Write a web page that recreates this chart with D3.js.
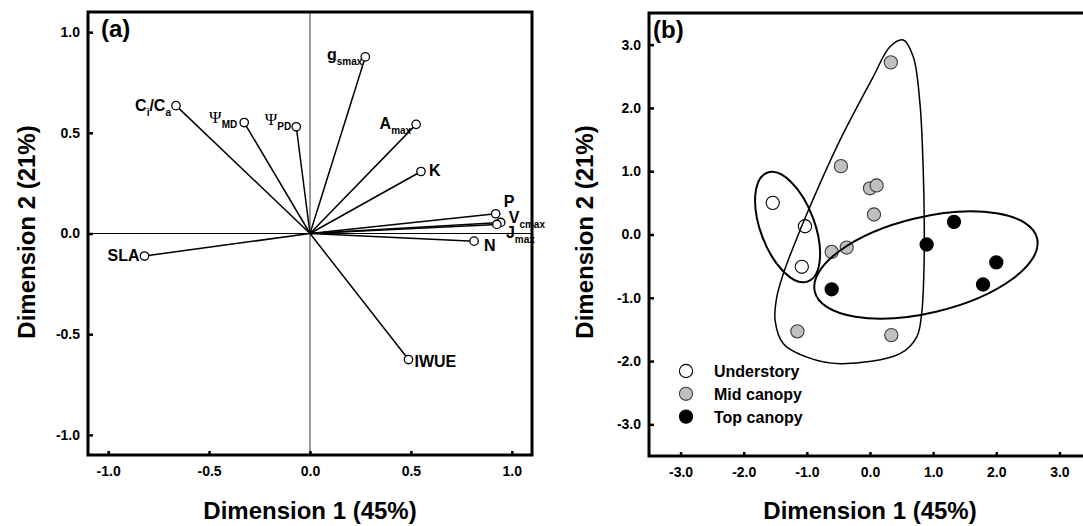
<!DOCTYPE html>
<html>
<head>
<meta charset="utf-8">
<script src="https://cdn.jsdelivr.net/npm/d3@7"></script>
<style>
  html, body { margin: 0; padding: 0; background: #fff; }
  svg { display: block; font-family: "Liberation Sans", Arial, sans-serif; }
</style>
</head>
<body>
<svg id="chart" width="1083" height="526"></svg>
<script>
// ---- Panel (a): trait loadings on the first two dimensions ----
const traits      = ["gsmax", "Ci/Ca", "ΨMD", "ΨPD", "Amax", "K", "P", "Vcmax", "Jmax", "N", "SLA", "IWUE"];
const dim1Loading = [0.274, -0.664, -0.326, -0.068, 0.526, 0.550, 0.920, 0.945, 0.926, 0.813, -0.820, 0.488];
const dim2Loading = [0.877,  0.635,  0.551,  0.530, 0.542, 0.308, 0.098, 0.055, 0.045, -0.038, -0.112, -0.626];
// label pieces: [text, kind] where kind is "" (main), "sub" (subscript) or "psi"
const traitLabels = [
  [["g", ""], ["smax", "sub"]],
  [["C", ""], ["i", "sub"], ["/C", ""], ["a", "sub"]],
  [["Ψ", "psi"], ["MD", "sub"]],
  [["Ψ", "psi"], ["PD", "sub"]],
  [["A", ""], ["max", "sub"]],
  [["K", ""]],
  [["P", ""]],
  [["V", ""], ["cmax", "sub"]],
  [["J", ""], ["max", "sub"]],
  [["N", ""]],
  [["SLA", ""]],
  [["IWUE", ""]]
];
// label placement relative to each loading tip (anchor, dx, dy in px)
const labelPlacement = [
  ["end", -3, 3], ["end", -5, 5], ["end", -7, 0], ["end", -5, -2], ["end", -5, 5], ["start", 8, 5],
  ["start", 8, -7], ["start", 8, 1], ["start", 9, 14], ["start", 10, 10], ["end", -5, 5], ["start", 6, 7]
];
const ticksA = [-1.0, -0.5, 0.0, 0.5, 1.0];

// ---- Panel (b): sample scores by canopy position ----
const groups = ["Understory", "Mid canopy", "Top canopy"];
const groupFill = ["#ffffff", "#c0c0c0", "#000000"];
const understoryX = [-1.54, -1.03, -1.08];
const understoryY = [ 0.50,  0.13, -0.51];
const midX = [0.33, -0.46, 0.00, 0.105, 0.063, -0.607, -0.369, -1.15, 0.337];
const midY = [2.72,  1.08, 0.73, 0.775, 0.316, -0.275, -0.206, -1.53, -1.59];
const topX = [1.33,  0.897, -0.607,  2.00,  1.79];
const topY = [0.20, -0.158, -0.866, -0.44, -0.79];
// group envelopes (data units): ellipses [cx, cy, semi-axis a, semi-axis b, tilt deg]
const understoryEllipse = [-1.305, 0.117, 0.919, 0.427, 69.4];
const topEllipse        = [0.886, -0.482, 1.81, 0.755, -13.5];
// mid canopy envelope outline
const midOutlineX = [0.527, 0.685, 0.791, 0.843, 0.859, 0.854, 0.818, 0.739, 0.475, -0.475, -1.0, -1.372, -1.503, -1.476, -1.372, -1.214, -0.976, -0.475, 0.052, 0.316];
const midOutlineY = [3.074, 2.81, 2.073, 1.017, 0.226, -0.565, -1.25, -1.62, -1.883, -2.041, -1.937, -1.725, -1.356, -0.987, -0.617, -0.196, 0.384, 1.492, 2.494, 2.968];
const ticksB = [-3, -2, -1, 0, 1, 2, 3];

const svg = d3.select("#chart");
const fmt = d => d.toFixed(1);

const xA = d3.scaleLinear().domain([-1.1, 1.1]).range([88, 532]);
const yA = d3.scaleLinear().domain([-1.1, 1.1]).range([455, 12]);
const xB = d3.scaleLinear().domain([-3.5, 3.5]).range([649, 1091]);
const yB = d3.scaleLinear().domain([-3.5, 3.5]).range([456, 13]);

function drawAxes(g, x, y, ticks) {
  const left = g.append("g").attr("transform", `translate(${x.range()[0]},0)`)
    .call(d3.axisLeft(y).tickValues(ticks).tickFormat(fmt).tickSize(-5).tickPadding(8));
  const bottom = g.append("g").attr("transform", `translate(0,${y.range()[0]})`)
    .call(d3.axisBottom(x).tickValues(ticks).tickFormat(fmt).tickSize(-4).tickPadding(11));
  [left, bottom].forEach(a => {
    a.select(".domain").remove();
    a.selectAll(".tick line").attr("stroke", "#000").attr("stroke-width", 2.5);
    a.selectAll(".tick text").attr("fill", "#000").style("font-size", "14px")
      .style("font-weight", "bold").style("font-family", "'Liberation Sans', Arial, sans-serif");
  });
}

function drawFrame(g, x, y) {
  g.append("rect")
    .attr("x", x.range()[0]).attr("y", y.range()[1])
    .attr("width", x.range()[1] - x.range()[0]).attr("height", y.range()[0] - y.range()[1])
    .attr("fill", "none").attr("stroke", "#000").attr("stroke-width", 3);
}

function axisTitles(g, x, y, xLabelX, yLabelX) {
  g.append("text").attr("x", xLabelX).attr("y", 519).attr("text-anchor", "middle")
    .style("font-size", "24px").style("font-weight", "bold").text("Dimension 1 (45%)");
  g.append("text").attr("transform", `translate(${yLabelX},232) rotate(-90)`).attr("text-anchor", "middle")
    .style("font-size", "24px").style("font-weight", "bold").text("Dimension 2 (21%)");
}

// ---------------- Panel (a) ----------------
const ga = svg.append("g");
// reference lines through the origin
ga.append("line").attr("x1", xA(0)).attr("x2", xA(0)).attr("y1", yA.range()[1]).attr("y2", yA.range()[0])
  .attr("stroke", "#808080").attr("stroke-width", 1.6);
ga.append("line").attr("x1", xA.range()[0]).attr("x2", xA.range()[1]).attr("y1", yA(0)).attr("y2", yA(0))
  .attr("stroke", "#000").attr("stroke-width", 1);

const loadings = traits.map((t, i) => ({ t, x: dim1Loading[i], y: dim2Loading[i], label: traitLabels[i], place: labelPlacement[i] }));

ga.selectAll("line.vec").data(loadings).join("line").attr("class", "vec")
  .attr("x1", xA(0)).attr("y1", yA(0))
  .attr("x2", d => xA(d.x)).attr("y2", d => yA(d.y))
  .attr("stroke", "#000").attr("stroke-width", 1.5);

ga.selectAll("circle.tip").data(loadings).join("circle").attr("class", "tip")
  .attr("cx", d => xA(d.x)).attr("cy", d => yA(d.y)).attr("r", 4.2)
  .attr("fill", "#fff").attr("stroke", "#000").attr("stroke-width", 1.3);

loadings.forEach(d => {
  const [anchor, dx, dy] = d.place;
  const txt = ga.append("text")
    .attr("x", xA(d.x) + dx).attr("y", yA(d.y) + dy)
    .attr("text-anchor", anchor)
    .style("font-weight", "bold").style("font-size", "16px");
  let shift = 0;
  d.label.forEach(([s, kind]) => {
    const ts = txt.append("tspan").text(s);
    if (kind === "sub") {
      ts.attr("dy", 5 - shift).style("font-size", "10px");
      shift = 5;
    } else {
      if (shift) ts.attr("dy", -shift);
      shift = 0;
      if (kind === "psi") {
        ts.style("font-family", "'Liberation Serif', 'Times New Roman', serif")
          .style("font-weight", "normal").style("font-size", "17px");
      }
    }
  });
});

drawAxes(ga, xA, yA, ticksA);
drawFrame(ga, xA, yA);
ga.append("text").attr("x", 101).attr("y", 37).style("font-size", "24px").style("font-weight", "bold").text("(a)");
axisTitles(ga, xA, yA, xA(0), 35);

// ---------------- Panel (b) ----------------
const gb = svg.append("g");
const scores = [
  understoryX.map((v, i) => ({ x: v, y: understoryY[i], g: 0 })),
  midX.map((v, i) => ({ x: v, y: midY[i], g: 1 })),
  topX.map((v, i) => ({ x: v, y: topY[i], g: 2 }))
].flat();

gb.selectAll("circle.pt").data(scores).join("circle").attr("class", "pt")
  .attr("cx", d => xB(d.x)).attr("cy", d => yB(d.y)).attr("r", 6.6)
  .attr("fill", d => groupFill[d.g])
  .attr("stroke", d => d.g === 1 ? "#3a3a3a" : "#000").attr("stroke-width", 1.1);

function ellipse(g, e, width) {
  const [cx, cy, a, b, tilt] = e;
  const px = xB(cx), py = yB(cy);
  g.append("ellipse")
    .attr("cx", px).attr("cy", py)
    .attr("rx", xB(cx + a) - px).attr("ry", py - yB(cy + b))
    .attr("transform", `rotate(${tilt},${px},${py})`)
    .attr("fill", "none").attr("stroke", "#000").attr("stroke-width", width);
}
ellipse(gb, understoryEllipse, 2);
ellipse(gb, topEllipse, 2);

const outline = midOutlineX.map((v, i) => [xB(v), yB(midOutlineY[i])]);
gb.append("path")
  .attr("d", d3.line().curve(d3.curveCatmullRomClosed.alpha(0.5))(outline))
  .attr("fill", "none").attr("stroke", "#000").attr("stroke-width", 1.5);

// legend
const legend = gb.append("g");
groups.forEach((name, i) => {
  const cy = 371 + i * 22.8;
  legend.append("circle").attr("cx", 686).attr("cy", cy).attr("r", 6.6)
    .attr("fill", groupFill[i]).attr("stroke", i === 1 ? "#3a3a3a" : "#000").attr("stroke-width", 1.1);
  legend.append("text").attr("x", 714).attr("y", cy + 6)
    .style("font-size", "16px").style("font-weight", "bold").text(name);
});

drawAxes(gb, xB, yB, ticksB);
drawFrame(gb, xB, yB);
gb.append("text").attr("x", 653).attr("y", 38).style("font-size", "24px").style("font-weight", "bold").text("(b)");
axisTitles(gb, xB, yB, xB(0), 593);
</script>
</body>
</html>
